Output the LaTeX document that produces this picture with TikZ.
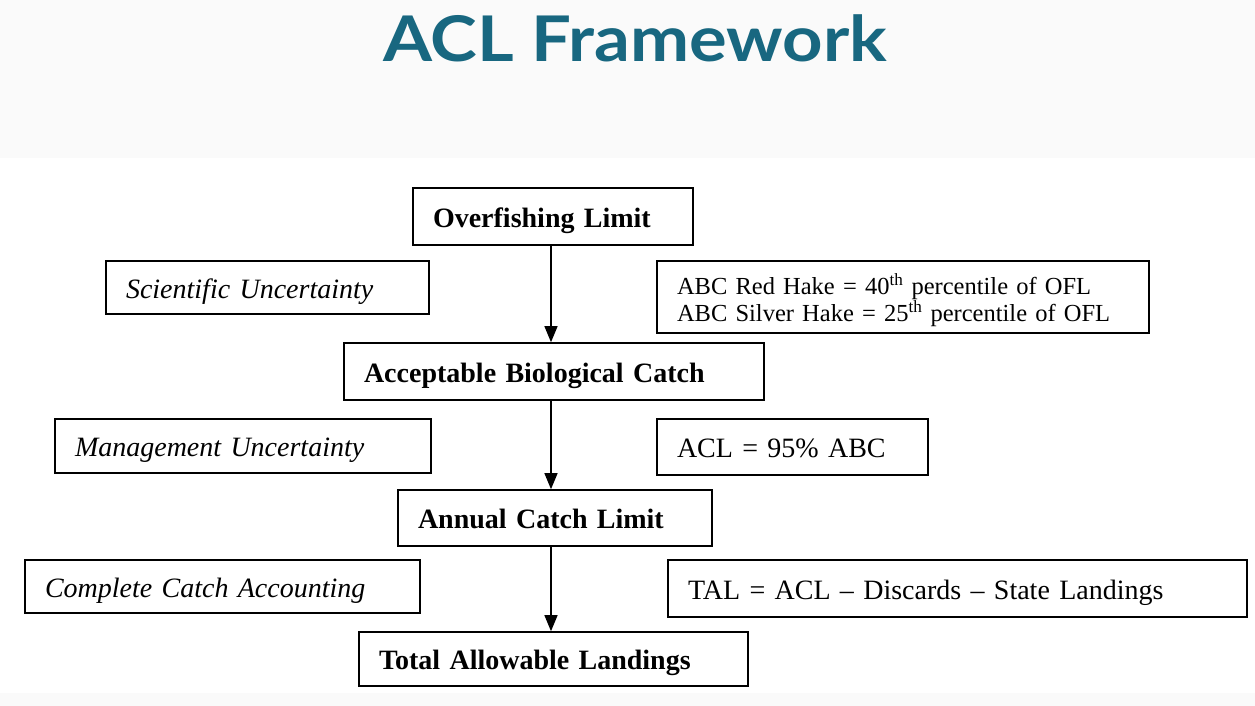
\documentclass[tikz,border=0pt]{standalone}
\usepackage{fontspec}
\setmainfont{Liberation Serif}
\newfontfamily\titlefont{Lato}
\usetikzlibrary{arrows.meta}
\definecolor{titleteal}{RGB}{24,103,128}
\definecolor{bandgrey}{RGB}{250,250,250}
\tikzset{
  boxbase/.style={draw=black, line width=1.6pt, inner xsep=20pt, inner ysep=0pt, align=left},
  oneline/.style={text height=25pt, text depth=4pt},
  mainbox/.style={boxbase, oneline, font=\fontsize{28}{30}\selectfont\bfseries},
  notebox/.style={boxbase, oneline, font=\fontsize{28}{30}\selectfont\itshape},
  rulebox/.style={boxbase, oneline, font=\fontsize{28}{30}\selectfont},
  flow/.style={line width=1.3pt, -{Triangle[length=16pt,width=13pt]}}
}
\newcommand{\bx}[6]{% name, style, cx, cy, w, h; node text follows
  \node[#2, minimum width=#5pt, minimum height=#6pt, text width=#5pt-40pt] (#1) at (#3,#4)}
\begin{document}
\begin{tikzpicture}[x=1pt,y=-1pt]
\useasboundingbox (0,0) rectangle (1255,706);
\fill[white] (0,0) rectangle (1255,706);
\fill[bandgrey] (0,0) rectangle (1255,158);
\fill[bandgrey] (0,693) rectangle (1255,706);

\node[text=titleteal, font=\titlefont\fontsize{63}{66}\selectfont\bfseries, anchor=base, inner sep=0pt] (title) at (635,62) {\scalebox{1.12}[1]{ACL Framework}};

\bx{ofl}{mainbox}{553}{216.5}{280}{57}{Overfishing Limit};
\bx{sci}{notebox}{267.5}{287.5}{323}{53}{Scientific Uncertainty};
\node[boxbase, font=\fontsize{24.5}{25}\selectfont, minimum width=492pt, minimum height=72pt, text width=452pt] (abcr) at (903,297)
  {\rule{0pt}{28pt}ABC Red Hake = 40\textsuperscript{th} percentile of OFL\\ABC Silver Hake = 25\textsuperscript{th} percentile of OFL};
\bx{abc}{mainbox}{554}{371.5}{420}{57}{Acceptable Biological Catch};
\bx{mgmt}{notebox}{243}{446}{376}{54}{Management Uncertainty};
\bx{aclr}{rulebox}{792.5}{447}{271}{56}{ACL = 95\% ABC};
\bx{acl}{mainbox}{555}{518}{314}{56}{Annual Catch Limit};
\bx{cca}{notebox}{222.5}{586.5}{395}{53}{Complete Catch Accounting};
\bx{talr}{rulebox}{957.5}{588.5}{579}{57}{TAL = ACL – Discards – State Landings};
\bx{tal}{mainbox}{553.5}{659}{389}{54}{Total Allowable Landings};

\coordinate (ax) at (551,0);
\draw[flow] (ofl.south -| ax) -- (abc.north -| ax);
\draw[flow] (abc.south -| ax) -- (acl.north -| ax);
\draw[flow] (acl.south -| ax) -- (tal.north -| ax);
\end{tikzpicture}
\end{document}
